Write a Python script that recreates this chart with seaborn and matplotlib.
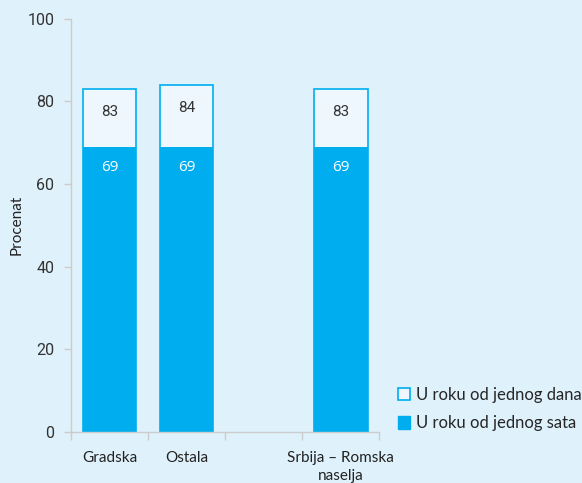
import pandas as pd
import matplotlib.pyplot as plt
import seaborn as sns

categories = ["Gradska", "Ostala", "", "Srbija – Romska\nnaselja"]
within_day = [83, 84, None, 83]
within_hour = [69, 69, None, 69]

bg = "#DFF1FB"
blue = "#00AEEF"
pale = "#EEF7FD"

sns.set_style("white")
plt.rcParams['font.family'] = ['Lato', 'DejaVu Sans']

df = pd.DataFrame({"kat": categories, "dan": within_day, "sat": within_hour})

fig = plt.figure(figsize=(5.82, 4.83), dpi=100, facecolor=bg)
ax = fig.add_axes([0.122, 0.106, 0.530, 0.855], facecolor=bg)

sns.barplot(data=df, x="kat", y="dan", order=categories, color=pale,
            edgecolor=blue, linewidth=1.2, width=0.69, ax=ax, saturation=1)
sns.barplot(data=df, x="kat", y="sat", order=categories, color=blue,
            edgecolor=blue, linewidth=0, width=0.69, ax=ax, saturation=1)

for i, (d, s) in enumerate(zip(within_day, within_hour)):
    if d is None:
        continue
    ax.text(i, d - 5.5, f"{d}", ha="center", va="center", fontsize=11,
            color="#333333", family=["Roboto", "DejaVu Sans"])
    ax.text(i, s - 5, f"{s}", ha="center", va="center", fontsize=11,
            color="white", family=["Open Sans", "DejaVu Sans"])

ax.set_ylim(0, 100)
ax.set_xlim(-0.5, 3.5)
ax.set_yticks([0, 20, 40, 60, 80, 100])
for lbl in ax.get_yticklabels():
    lbl.set_family(["Roboto", "DejaVu Sans"])
ax.tick_params(axis="y", labelsize=11.5, colors="#cccccc", labelcolor="#333333",
               left=True, length=5, width=1, pad=7)
ax.set_xticks(range(len(categories)))
ax.set_xticklabels(categories, fontsize=11, color="#222222", linespacing=1.3)
ax.set_xticks([-0.5, 0.5, 1.5, 2.5, 3.5], minor=True)
ax.tick_params(axis="x", which="major", length=0, pad=14)
ax.tick_params(axis="x", which="minor", bottom=True, length=6, width=1, color="#cccccc")

ax.set_xlabel("")
ax.set_ylabel("Procenat", fontsize=11, color="#222222")
ax.yaxis.set_label_coords(-0.155, 0.5)

for side in ["top", "right"]:
    ax.spines[side].set_visible(False)
for side in ["left", "bottom"]:
    ax.spines[side].set_color("#cccccc")
    ax.spines[side].set_linewidth(1)

handles = [plt.Rectangle((0, 0), 1, 1, facecolor=pale, edgecolor=blue, linewidth=1.2),
           plt.Rectangle((0, 0), 1, 1, facecolor=blue, edgecolor=blue)]
fig.legend(handles, ["U roku od jednog dana", "U roku od jednog sata"],
           loc="lower left", bbox_to_anchor=(0.672, 0.093), frameon=False,
           fontsize=12, handlelength=0.75, handleheight=0.75, handletextpad=0.35,
           labelspacing=0.75, borderaxespad=0)

fig.savefig("out.png", dpi=100, facecolor=bg)
